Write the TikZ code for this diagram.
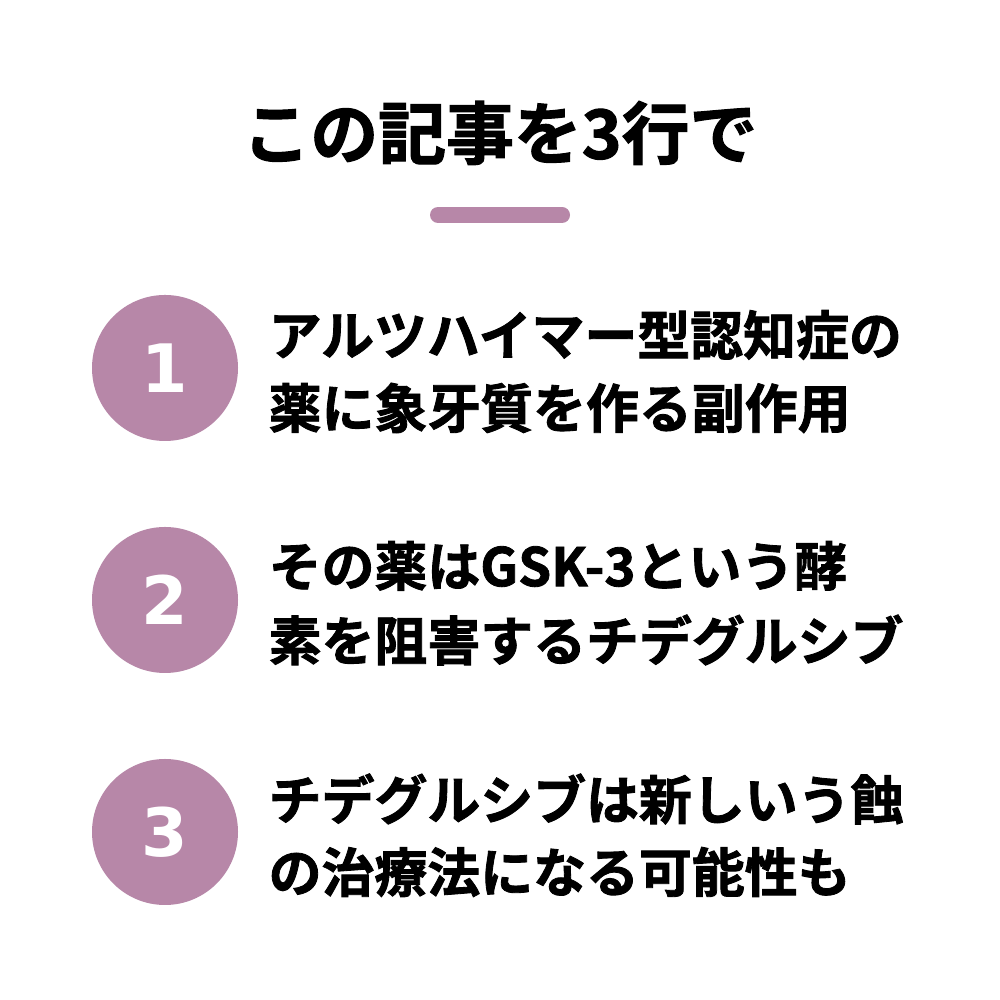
\documentclass[tikz,border=0pt]{standalone}
\usepackage{fontspec}
\newfontfamily\cjk{Noto Sans CJK JP}[BoldFont={* Bold},BoldFeatures={FakeBold=1.6}]
\newfontfamily\numfont{DejaVu Sans}
\definecolor{accent}{HTML}{B787A8}
\begin{document}
\begin{tikzpicture}[x=1cm,y=1cm,
  numcirc/.style={circle,fill=accent,minimum size=1.46cm,inner sep=0pt,text=white,font=\numfont\bfseries\fontsize{19pt}{19pt}\selectfont},
  bodytext/.style={anchor=west,inner sep=0pt,font=\cjk\bfseries\fontsize{15.05pt}{15.05pt}\selectfont},
  titletext/.style={inner sep=0pt,font=\cjk\bfseries\fontsize{19.3pt}{19.3pt}\selectfont}]
\useasboundingbox[fill=white] (0,0) rectangle (10,10);
\node[titletext] (title) at (5,8.67) {この記事を3行で};
\draw[accent,line width=0.16cm,line cap=round] (4.38,7.85) coordinate (barl) -- (5.62,7.85) coordinate (barr);
\node[numcirc] (n1) at (1.65,6.32) {1};
\node[numcirc] (n2) at (1.65,4.00) {2};
\node[numcirc] (n3) at (1.65,1.68) {3};
\node[bodytext] (t1a) at (2.68,6.65) {アルツハイマー型認知症の};
\node[bodytext] (t1b) at (2.68,5.92) {薬に象牙質を作る副作用};
\node[bodytext] (t2a) at (2.68,4.34) {その薬はGSK-3という酵};
\node[bodytext] (t2b) at (2.68,3.60) {素を阻害するチデグルシブ};
\node[bodytext] (t3a) at (2.68,2.01) {チデグルシブは新しいう蝕};
\node[bodytext] (t3b) at (2.68,1.28) {の治療法になる可能性も};
\end{tikzpicture}
\end{document}
